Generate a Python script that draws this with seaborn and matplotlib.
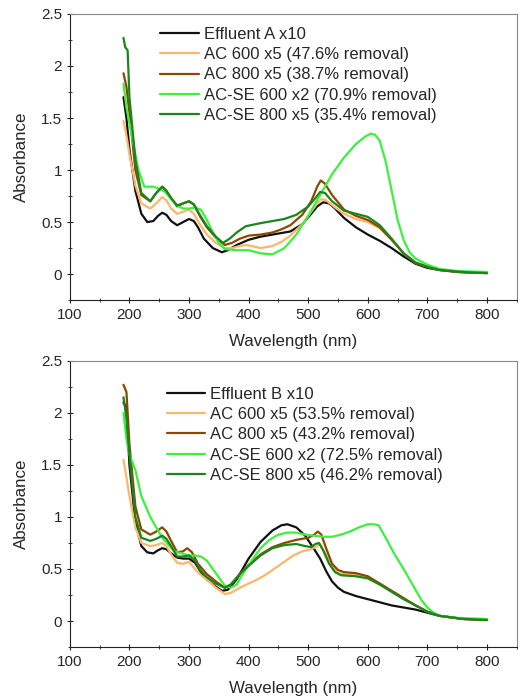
import numpy as np
import pandas as pd
import matplotlib
matplotlib.use("Agg")
import matplotlib.pyplot as plt
from matplotlib.ticker import MultipleLocator
import seaborn as sns

# -------------------------------
# DATA
# -------------------------------
# Panel A
a_eff_x = [190, 195, 200, 210, 220, 230, 240, 248, 255, 262, 270, 280, 290, 300, 308, 315, 325, 340, 355, 365, 380, 400, 420, 440, 470, 490, 505, 515, 525, 535, 545, 560, 580, 600, 620, 640, 660, 680, 700, 720, 750, 800]
a_eff_y = [1.70, 1.50, 1.20, 0.80, 0.58, 0.50, 0.51, 0.56, 0.59, 0.57, 0.51, 0.47, 0.50, 0.53, 0.51, 0.45, 0.34, 0.25, 0.21, 0.23, 0.28, 0.33, 0.36, 0.38, 0.41, 0.48, 0.58, 0.65, 0.69, 0.68, 0.63, 0.54, 0.45, 0.38, 0.32, 0.25, 0.17, 0.10, 0.06, 0.04, 0.02, 0.01]

a_ac600_x = [190, 195, 200, 210, 220, 235, 245, 255, 262, 270, 280, 290, 300, 308, 318, 330, 345, 360, 372, 385, 395, 405, 420, 440, 455, 470, 490, 505, 515, 522, 530, 545, 560, 580, 600, 620, 640, 660, 680, 700, 720, 760, 800]
a_ac600_y = [1.47, 1.33, 1.15, 0.85, 0.68, 0.63, 0.68, 0.74, 0.71, 0.63, 0.58, 0.60, 0.62, 0.58, 0.48, 0.38, 0.30, 0.25, 0.25, 0.27, 0.28, 0.27, 0.25, 0.27, 0.31, 0.37, 0.48, 0.60, 0.68, 0.72, 0.71, 0.64, 0.58, 0.53, 0.50, 0.44, 0.33, 0.20, 0.11, 0.07, 0.04, 0.02, 0.01]

a_ac800_x = [190, 195, 200, 210, 220, 235, 245, 255, 262, 270, 280, 290, 300, 308, 318, 330, 345, 360, 372, 385, 400, 420, 440, 455, 470, 490, 505, 515, 521, 528, 540, 560, 580, 600, 620, 640, 660, 680, 700, 720, 760, 800]
a_ac800_y = [1.93, 1.80, 1.55, 1.00, 0.76, 0.70, 0.78, 0.84, 0.80, 0.73, 0.65, 0.68, 0.70, 0.67, 0.56, 0.45, 0.35, 0.28, 0.30, 0.34, 0.37, 0.38, 0.40, 0.43, 0.47, 0.57, 0.70, 0.84, 0.90, 0.87, 0.76, 0.62, 0.56, 0.52, 0.45, 0.33, 0.20, 0.11, 0.07, 0.04, 0.02, 0.01]

a_se600_x = [190, 195, 200, 205, 215, 225, 240, 250, 260, 270, 280, 290, 300, 310, 320, 330, 340, 350, 360, 380, 400, 420, 440, 460, 480, 500, 520, 540, 560, 580, 595, 605, 612, 620, 630, 640, 650, 660, 670, 680, 700, 720, 750, 800]
a_se600_y = [1.83, 1.60, 1.45, 1.30, 1.00, 0.84, 0.84, 0.82, 0.79, 0.72, 0.66, 0.63, 0.63, 0.64, 0.62, 0.52, 0.40, 0.30, 0.24, 0.23, 0.23, 0.20, 0.19, 0.25, 0.38, 0.56, 0.76, 0.96, 1.12, 1.25, 1.32, 1.35, 1.34, 1.28, 1.08, 0.80, 0.52, 0.33, 0.21, 0.15, 0.09, 0.05, 0.03, 0.02]

a_se800_x = [190, 193, 197, 200, 210, 220, 235, 245, 255, 262, 270, 280, 290, 300, 308, 318, 330, 345, 357, 368, 380, 395, 420, 440, 460, 480, 500, 512, 520, 528, 540, 560, 580, 600, 620, 640, 660, 680, 700, 720, 760, 800]
a_se800_y = [2.27, 2.18, 2.15, 1.70, 1.10, 0.78, 0.70, 0.78, 0.84, 0.80, 0.73, 0.66, 0.68, 0.70, 0.67, 0.57, 0.46, 0.36, 0.30, 0.34, 0.40, 0.46, 0.49, 0.51, 0.53, 0.57, 0.65, 0.73, 0.79, 0.78, 0.70, 0.61, 0.58, 0.55, 0.47, 0.34, 0.20, 0.11, 0.07, 0.04, 0.02, 0.01]

# Panel B
b_eff_x = [190, 195, 200, 210, 220, 230, 240, 248, 255, 262, 270, 280, 290, 300, 310, 320, 330, 345, 355, 365, 380, 400, 420, 440, 455, 465, 480, 495, 510, 520, 530, 540, 550, 560, 580, 600, 620, 640, 660, 680, 700, 720, 760, 800]
b_eff_y = [2.10, 2.05, 1.50, 0.95, 0.72, 0.66, 0.65, 0.68, 0.70, 0.69, 0.65, 0.61, 0.60, 0.60, 0.56, 0.47, 0.40, 0.33, 0.29, 0.30, 0.40, 0.60, 0.76, 0.87, 0.92, 0.93, 0.90, 0.82, 0.69, 0.60, 0.48, 0.38, 0.32, 0.28, 0.24, 0.21, 0.18, 0.15, 0.13, 0.11, 0.08, 0.05, 0.02, 0.01]

b_ac600_x = [190, 195, 200, 210, 220, 235, 245, 255, 262, 270, 280, 290, 300, 310, 320, 330, 345, 360, 370, 385, 400, 415, 430, 445, 460, 475, 490, 505, 515, 520, 528, 540, 550, 560, 580, 600, 620, 640, 660, 680, 700, 720, 760, 800]
b_ac600_y = [1.55, 1.38, 1.20, 0.90, 0.75, 0.72, 0.73, 0.75, 0.72, 0.64, 0.56, 0.55, 0.57, 0.50, 0.44, 0.40, 0.32, 0.26, 0.27, 0.32, 0.36, 0.40, 0.45, 0.51, 0.57, 0.63, 0.67, 0.69, 0.72, 0.74, 0.66, 0.52, 0.46, 0.45, 0.44, 0.42, 0.36, 0.29, 0.22, 0.15, 0.09, 0.05, 0.02, 0.01]

b_ac800_x = [190, 195, 200, 210, 220, 235, 245, 255, 262, 270, 280, 290, 297, 305, 315, 330, 345, 360, 370, 385, 400, 420, 440, 460, 480, 500, 510, 516, 522, 530, 540, 550, 560, 580, 600, 620, 640, 660, 680, 700, 720, 760, 800]
b_ac800_y = [2.27, 2.20, 1.70, 1.10, 0.88, 0.83, 0.86, 0.90, 0.86, 0.77, 0.66, 0.67, 0.70, 0.66, 0.55, 0.45, 0.38, 0.32, 0.35, 0.45, 0.54, 0.64, 0.71, 0.75, 0.78, 0.80, 0.83, 0.86, 0.83, 0.70, 0.55, 0.49, 0.47, 0.46, 0.43, 0.36, 0.29, 0.22, 0.15, 0.09, 0.05, 0.02, 0.01]

b_se600_x = [190, 195, 200, 210, 220, 235, 255, 275, 300, 310, 320, 330, 340, 350, 360, 370, 380, 390, 405, 420, 435, 450, 465, 480, 495, 510, 525, 540, 555, 570, 585, 600, 610, 618, 630, 645, 660, 670, 680, 690, 700, 710, 720, 750, 800]
b_se600_y = [2.00, 1.75, 1.60, 1.45, 1.20, 1.00, 0.80, 0.67, 0.63, 0.63, 0.62, 0.58, 0.50, 0.42, 0.34, 0.32, 0.35, 0.45, 0.58, 0.70, 0.78, 0.83, 0.85, 0.85, 0.83, 0.82, 0.81, 0.81, 0.83, 0.86, 0.90, 0.93, 0.93, 0.92, 0.80, 0.64, 0.50, 0.40, 0.30, 0.20, 0.13, 0.08, 0.05, 0.03, 0.02]

b_se800_x = [190, 195, 200, 210, 220, 235, 245, 255, 262, 270, 280, 290, 300, 310, 320, 330, 345, 360, 370, 385, 400, 420, 440, 460, 480, 495, 505, 512, 518, 525, 535, 545, 555, 580, 600, 620, 640, 660, 680, 700, 720, 760, 800]
b_se800_y = [2.15, 1.95, 1.60, 1.00, 0.80, 0.77, 0.79, 0.82, 0.79, 0.72, 0.62, 0.62, 0.63, 0.58, 0.48, 0.42, 0.36, 0.32, 0.35, 0.45, 0.53, 0.63, 0.70, 0.73, 0.74, 0.72, 0.71, 0.74, 0.75, 0.68, 0.55, 0.47, 0.44, 0.43, 0.41, 0.35, 0.28, 0.21, 0.15, 0.09, 0.05, 0.02, 0.01]

labels_a = ["Effluent A x10", "AC 600 x5 (47.6% removal)", "AC 800 x5 (38.7% removal)",
            "AC-SE 600 x2 (70.9% removal)", "AC-SE 800 x5 (35.4% removal)"]
labels_b = ["Effluent B x10", "AC 600 x5 (53.5% removal)", "AC 800 x5 (43.2% removal)",
            "AC-SE 600 x2 (72.5% removal)", "AC-SE 800 x5 (46.2% removal)"]

colors = ["#111111", "#FFB56B", "#8B4800", "#3DF03D", "#1A861A"]


def build_frame(series, labels):
    frames = []
    for (x, y), lab in zip(series, labels):
        frames.append(pd.DataFrame({"wavelength": x, "absorbance": y, "sample": lab}))
    return pd.concat(frames, ignore_index=True)


df_a = build_frame([(a_eff_x, a_eff_y), (a_ac600_x, a_ac600_y), (a_ac800_x, a_ac800_y),
                    (a_se600_x, a_se600_y), (a_se800_x, a_se800_y)], labels_a)
df_b = build_frame([(b_eff_x, b_eff_y), (b_ac600_x, b_ac600_y), (b_ac800_x, b_ac800_y),
                    (b_se600_x, b_se600_y), (b_se800_x, b_se800_y)], labels_b)

# -------------------------------
# PLOT
# -------------------------------
sns.set_theme(style="ticks")
plt.rcParams["font.family"] = ["Liberation Sans", "DejaVu Sans"]

fig = plt.figure(figsize=(5.29, 6.98), dpi=100)
ax_a = fig.add_axes([0.132, 0.570, 0.845, 0.410])
ax_b = fig.add_axes([0.132, 0.073, 0.845, 0.410])


def style_panel(ax, df, labels, legend_x, legend_y):
    sns.lineplot(data=df, x="wavelength", y="absorbance", hue="sample",
                 hue_order=labels, palette=colors, estimator=None, sort=False,
                 linewidth=1.6, ax=ax)
    ax.set_xlim(100, 850)
    ax.set_ylim(-0.25, 2.5)
    ax.xaxis.set_major_locator(MultipleLocator(100))
    ax.xaxis.set_minor_locator(MultipleLocator(50))
    ax.yaxis.set_minor_locator(MultipleLocator(0.25))
    ax.set_yticks([0, 0.5, 1, 1.5, 2, 2.5])
    ax.set_yticklabels(["0", "0.5", "1", "1.5", "2", "2.5"])
    ax.tick_params(which="both", direction="inout", left=True, bottom=True,
                   top=False, right=False, color="#222222")
    ax.tick_params(which="major", length=5, width=0.8, labelsize=11, pad=3)
    ax.tick_params(which="minor", length=3, width=0.6)
    for side in ["left", "bottom"]:
        ax.spines[side].set_color("#222222")
        ax.spines[side].set_linewidth(0.8)
    for side in ["top", "right"]:
        ax.spines[side].set_visible(True)
        ax.spines[side].set_color("#888888")
        ax.spines[side].set_linewidth(0.8)
    ax.set_xlabel("Wavelength (nm)", fontsize=12.2, labelpad=9)
    ax.set_ylabel("Absorbance", fontsize=12.2, labelpad=9)
    ax.legend(title=None, frameon=False, loc="upper left",
              bbox_to_anchor=(legend_x, legend_y), fontsize=12,
              handlelength=2.3, handletextpad=0.3, labelspacing=0.32,
              borderaxespad=0.2)


style_panel(ax_a, df_a, labels_a, 0.18, 0.99)
style_panel(ax_b, df_b, labels_b, 0.195, 0.945)

fig.savefig("out.png", dpi=100)
